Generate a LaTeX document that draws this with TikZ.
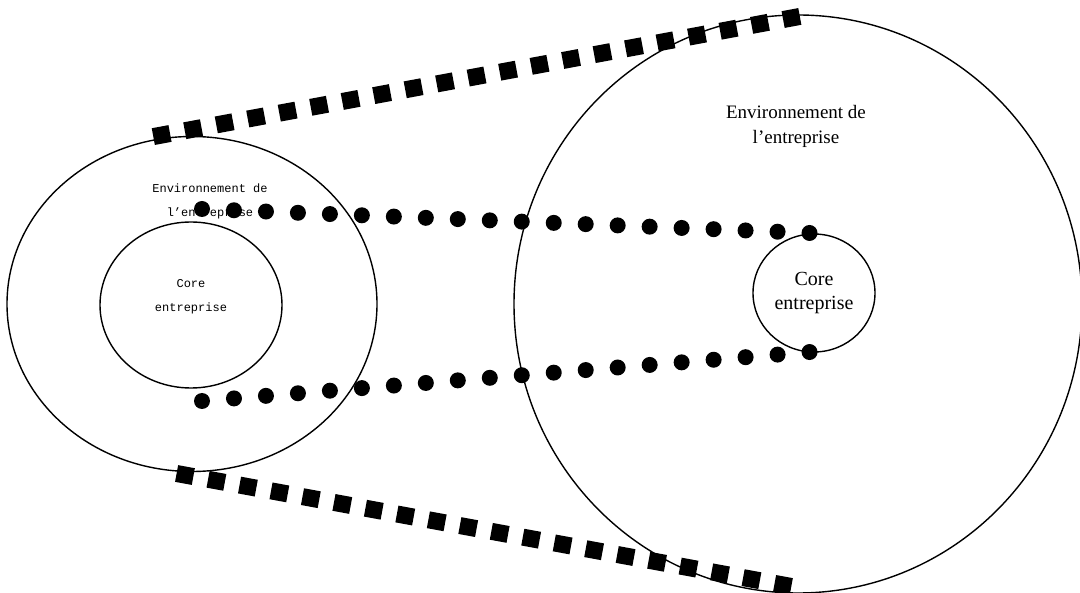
\documentclass[tikz,border=0pt]{standalone}
\usepackage{fontspec}
\setmainfont{Liberation Serif}
\newfontfamily\monofont{Liberation Mono}
\usetikzlibrary{shapes.geometric}
\begin{document}
\begin{tikzpicture}[x=1pt,y=-1pt,
  ring/.style={draw=black,line width=1.4pt,ellipse,inner sep=0pt,outer sep=0pt},
  bigtext/.style={font=\fontsize{19}{25}\selectfont,align=center,inner sep=0pt},
  smalltext/.style={font=\monofont\fontsize{12}{24}\selectfont,align=center,inner sep=0pt},
  dotrow/.style={line width=16pt,line cap=round},
  squarerow/.style={line width=17pt,line cap=butt}]
\useasboundingbox (0,0) rectangle (1080,593);
% circles
\node[ring,minimum width=370pt,minimum height=335pt] (outerL) at (192,304) {};
\node[ring,minimum width=182pt,minimum height=166pt] (innerL) at (191,305) {};
\node[ring,minimum width=568pt,minimum height=578pt] (outerR) at (798,304) {};
\node[ring,minimum width=122pt,minimum height=118pt,bigtext,font=\fontsize{20}{24}\selectfont] (innerR) at (814,293) {Core\\entreprise};
% texts
\node[smalltext] (envL) at (210,201) {Environnement de\\l’entreprise};
\node[smalltext] (coreL) at (191,297) {Core\\entreprise};
\node[bigtext] (envR) at (796,126) {Environnement de\\l’entreprise};
% dotted rows
\coordinate (t1) at (202,209);
\coordinate (t2) at (810,233);
\coordinate (b1) at (202,401);
\coordinate (b2) at (810,352);
\draw[dotrow,dash pattern=on 0pt off 32.0pt] (t1) -- (t2);
\draw[dotrow,dash pattern=on 0pt off 32.08pt] (b1) -- (b2);
% square rows
\coordinate (s1) at (153.3,136.6);
\coordinate (s2) at (800.1,16.4);
\coordinate (s3) at (176.6,473.5);
\coordinate (s4) at (791.4,586.5);
\draw[squarerow,dash pattern=on 17pt off 15.03pt] (s1) -- (s2);
\draw[squarerow,dash pattern=on 17pt off 15pt] (s3) -- (s4);
\end{tikzpicture}
\end{document}
